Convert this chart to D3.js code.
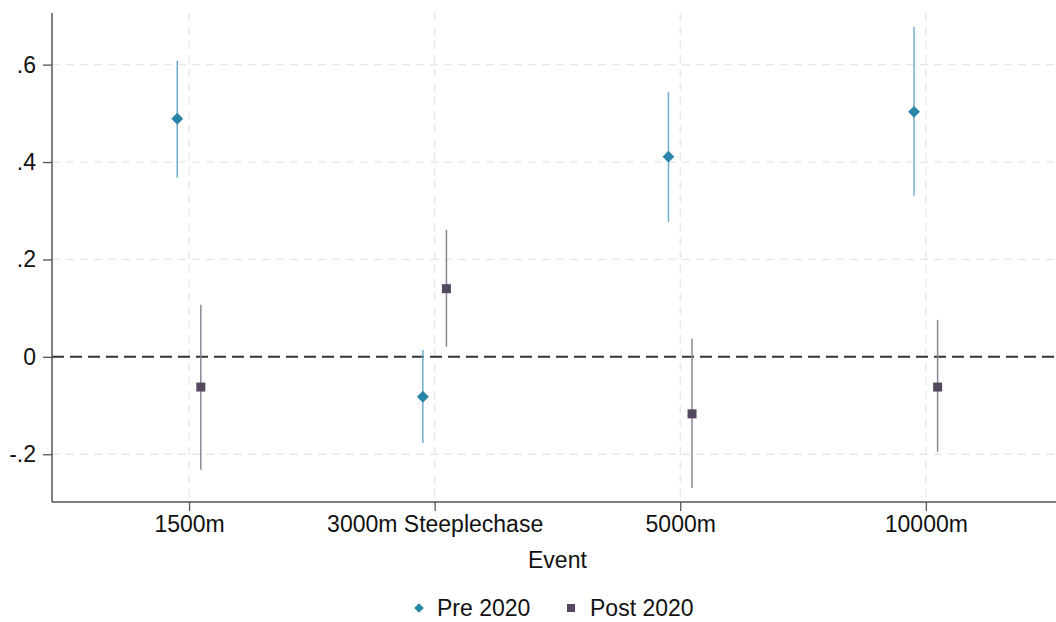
<!DOCTYPE html>
<html><head><meta charset="utf-8">
<script src="https://cdn.jsdelivr.net/npm/d3@7"></script>
<style>body{margin:0;background:#fff}svg{display:block;font-family:"Liberation Sans",Arial,sans-serif}</style>
</head><body>
<svg id="c" width="1056" height="622"></svg>
<script>
const events = ["1500m", "3000m Steeplechase", "5000m", "10000m"];
const seriesNames = ["Pre 2020", "Post 2020"];
const preEst = [0.489, -0.082, 0.411, 0.503];
const preLo  = [0.368, -0.177, 0.277, 0.331];
const preHi  = [0.608,  0.014, 0.544, 0.678];
const postEst = [-0.062, 0.140, -0.117, -0.062];
const postLo  = [-0.232, 0.021, -0.269, -0.195];
const postHi  = [ 0.107, 0.261,  0.037,  0.076];
const yTicks = [-0.2, 0, 0.2, 0.4, 0.6];
const yTickLabels = ["-.2", "0", ".2", ".4", ".6"];

const svg = d3.select("#c");
const L = 52, R = 1056, T = 13, B = 502;
const FS = 23;
const x = d3.scaleLinear().domain([0.442, 4.53]).range([L, R]);
const y = d3.scaleLinear().domain([-0.298, 0.706]).range([B, T]);
const off = 0.048;

// gridlines
const g = svg.append("g");
g.selectAll(".hg").data(yTicks.filter(d => d !== 0)).join("line")
  .attr("x1", L).attr("x2", R).attr("y1", d => y(d)).attr("y2", d => y(d))
  .attr("stroke", "#e6e6e6").attr("stroke-width", 1.3).attr("stroke-dasharray", "8,6");
g.selectAll(".vg").data(events).join("line")
  .attr("x1", (d, i) => x(i + 1)).attr("x2", (d, i) => x(i + 1)).attr("y1", T).attr("y2", B)
  .attr("stroke", "#e6e6e6").attr("stroke-width", 1.3).attr("stroke-dasharray", "8,6");

// zero line
svg.append("line").attr("x1", L).attr("x2", R).attr("y1", y(0)).attr("y2", y(0))
  .attr("stroke", "#333").attr("stroke-width", 2).attr("stroke-dasharray", "12,6");

// axes
const yAxis = d3.axisLeft(y).tickValues(yTicks).tickFormat((d, i) => yTickLabels[i]).tickSize(9).tickPadding(7);
const ya = svg.append("g").attr("transform", `translate(${L},0)`).call(yAxis);
ya.attr("font-size", FS).attr("font-family", "Liberation Sans, Arial, sans-serif");
ya.select(".domain").attr("d", `M0,${T}V${B}`).attr("stroke", "#555").attr("stroke-width", 1.5);
ya.selectAll(".tick line").attr("stroke", "#555").attr("stroke-width", 1.3);
ya.selectAll("text").attr("fill", "#111");

const xAxis = d3.axisBottom(x).tickValues([1, 2, 3, 4]).tickFormat((d) => events[d - 1]).tickSize(9).tickPadding(5);
const xa = svg.append("g").attr("transform", `translate(0,${B})`).call(xAxis);
xa.attr("font-size", FS).attr("font-family", "Liberation Sans, Arial, sans-serif");
xa.select(".domain").attr("d", `M${L},0H${R}`).attr("stroke", "#555").attr("stroke-width", 1.5);
xa.selectAll(".tick line").attr("stroke", "#555").attr("stroke-width", 1.3);
xa.selectAll("text").attr("fill", "#111");

svg.append("text").attr("x", x(2.5)).attr("y", 568).attr("text-anchor", "middle")
  .attr("font-size", FS).attr("fill", "#111").text("Event");

// series
const preCol = "#2a86a8", preLine = "#6eaecb";
const postCol = "#55495f", postLine = "#8d8595";
const pre = events.map((e, i) => ({i, est: preEst[i], lo: preLo[i], hi: preHi[i]}));
const post = events.map((e, i) => ({i, est: postEst[i], lo: postLo[i], hi: postHi[i]}));

svg.selectAll(".pl").data(pre).join("line")
  .attr("x1", d => x(d.i + 1 - off)).attr("x2", d => x(d.i + 1 - off))
  .attr("y1", d => y(d.lo)).attr("y2", d => y(d.hi)).attr("stroke", preLine).attr("stroke-width", 1.5);
svg.selectAll(".ql").data(post).join("line")
  .attr("x1", d => x(d.i + 1 + off)).attr("x2", d => x(d.i + 1 + off))
  .attr("y1", d => y(d.lo)).attr("y2", d => y(d.hi)).attr("stroke", postLine).attr("stroke-width", 1.5);

const diamond = d3.symbol().type(d3.symbolDiamond2).size(90);
svg.selectAll(".pm").data(pre).join("path")
  .attr("d", diamond).attr("transform", d => `translate(${x(d.i + 1 - off)},${y(d.est)})`).attr("fill", preCol);
svg.selectAll(".qm").data(post).join("rect")
  .attr("x", d => x(d.i + 1 + off) - 4.5).attr("y", d => y(d.est) - 4.5)
  .attr("width", 9).attr("height", 9).attr("fill", postCol);

// legend
const lg = svg.append("g");
lg.append("path").attr("d", d3.symbol().type(d3.symbolDiamond2).size(60)).attr("transform", "translate(419,608)").attr("fill", preCol);
lg.append("text").attr("x", 437).attr("y", 616).attr("font-size", FS).attr("fill", "#111").text(seriesNames[0]);
lg.append("rect").attr("x", 567).attr("y", 604).attr("width", 8).attr("height", 8).attr("fill", postCol);
lg.append("text").attr("x", 590).attr("y", 616).attr("font-size", FS).attr("fill", "#111").text(seriesNames[1]);
</script>
</body></html>
